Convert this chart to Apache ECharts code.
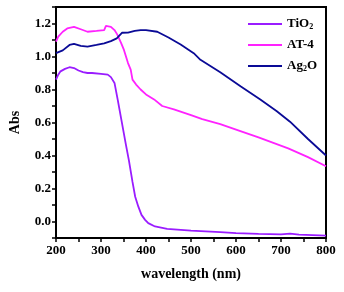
<!DOCTYPE html>
<html>
<head>
<meta charset="utf-8">
<script src="https://cdn.jsdelivr.net/npm/echarts@6/dist/echarts.min.js"></script>
<style>
  html, body { margin: 0; padding: 0; background: #fff; }
  #chart { width: 344px; height: 292px; }
</style>
</head>
<body>
<div id="chart"></div>
<script>
// wavelength (nm) and absorbance
const tio2Wl  = [200, 205, 210, 220, 230, 240, 250, 260, 270, 280, 300, 315, 322, 330, 337, 345, 355, 362, 370, 376, 383, 390, 398, 405, 420, 447, 500, 565, 600, 650, 700, 720, 740, 800];
const tio2Abs = [0.86, 0.89, 0.91, 0.925, 0.935, 0.93, 0.915, 0.905, 0.9, 0.9, 0.895, 0.89, 0.875, 0.84, 0.74, 0.62, 0.47, 0.37, 0.24, 0.15, 0.09, 0.04, 0.01, -0.01, -0.03, -0.045, -0.055, -0.065, -0.07, -0.075, -0.078, -0.074, -0.08, -0.085];

const at4Wl  = [200, 205, 215, 225, 240, 255, 270, 290, 307, 311, 322, 330, 336, 345, 351, 360, 366, 370, 378, 388, 400, 418, 436, 462, 500, 525, 565, 613, 650, 716, 760, 800];
const at4Abs = [1.09, 1.12, 1.15, 1.17, 1.18, 1.165, 1.15, 1.155, 1.16, 1.185, 1.18, 1.16, 1.134, 1.08, 1.04, 0.96, 0.92, 0.86, 0.83, 0.8, 0.77, 0.74, 0.7, 0.68, 0.645, 0.62, 0.59, 0.545, 0.51, 0.443, 0.39, 0.335];

const ag2oWl  = [200, 215, 230, 240, 255, 270, 290, 307, 322, 335, 347, 360, 375, 388, 400, 425, 450, 477, 506, 521, 565, 610, 654, 690, 720, 760, 800];
const ag2oAbs = [1.02, 1.037, 1.07, 1.077, 1.065, 1.06, 1.07, 1.08, 1.093, 1.11, 1.144, 1.145, 1.155, 1.16, 1.16, 1.15, 1.115, 1.073, 1.02, 0.98, 0.905, 0.82, 0.74, 0.67, 0.605, 0.5, 0.4];

const names  = ['TiO2', 'AT-4', 'Ag2O'];
const colors = ['#9a1cff', '#ff22ff', '#0a0a96'];

const pair = (xs, ys) => xs.map((x, i) => [x, ys[i]]);
const seriesData = [pair(tio2Wl, tio2Abs), pair(at4Wl, at4Abs), pair(ag2oWl, ag2oAbs)];

const font = 'Liberation Serif';
const chart = echarts.init(document.getElementById('chart'));

chart.setOption({
  animation: false,
  grid: {
    left: 55, right: 18, top: 7, bottom: 54,
    show: true, borderColor: '#000', borderWidth: 2
  },
  legend: {
    orient: 'vertical',
    left: 243, top: 12,
    icon: 'rect',
    itemWidth: 34, itemHeight: 2, itemGap: 7,
    data: names,
    formatter: n => n === 'TiO2' ? 'TiO{s|2}' : (n === 'Ag2O' ? 'Ag{s|2}O' : n),
    textStyle: {
      fontFamily: font, fontWeight: 'bold', fontSize: 13, color: '#000',
      lineHeight: 14,
      rich: { s: { fontFamily: font, fontWeight: 'bold', fontSize: 8, verticalAlign: 'bottom', padding: [6, 0, 0, 0] } }
    }
  },
  xAxis: {
    type: 'value', min: 200, max: 800, interval: 50,
    name: 'wavelength (nm)', nameLocation: 'middle', nameGap: 29,
    nameTextStyle: { fontFamily: font, fontWeight: 'bold', fontSize: 14, color: '#000' },
    axisLine: { onZero: false, lineStyle: { color: '#000', width: 2 } },
    axisTick: { length: 4, lineStyle: { color: '#000', width: 1.5 } },
    axisLabel: {
      margin: 6, fontFamily: font, fontWeight: 'bold', fontSize: 13, color: '#000',
      formatter: v => (v % 100 === 0 ? String(v) : '')
    },
    splitLine: { show: false }
  },
  yAxis: {
    type: 'value', min: -0.1, max: 1.3, interval: 0.1,
    name: 'Abs', nameLocation: 'middle', nameGap: 34,
    nameTextStyle: { fontFamily: font, fontWeight: 'bold', fontSize: 14, color: '#000' },
    axisLine: { onZero: false, lineStyle: { color: '#000', width: 2 } },
    axisTick: { length: 4, lineStyle: { color: '#000', width: 1.5 } },
    axisLabel: {
      margin: 5, fontFamily: font, fontWeight: 'bold', fontSize: 13, color: '#000',
      formatter: v => {
        const k = Math.round(v * 10);
        return (k % 2 === 0 && k <= 12) ? (k / 10).toFixed(1) : '';
      }
    },
    splitLine: { show: false }
  },
  series: names.map((n, i) => ({
    name: n,
    type: 'line',
    data: seriesData[i],
    symbol: 'none',
    lineStyle: { color: colors[i], width: 1.8 },
    itemStyle: { color: colors[i] }
  }))
});
</script>
</body>
</html>
